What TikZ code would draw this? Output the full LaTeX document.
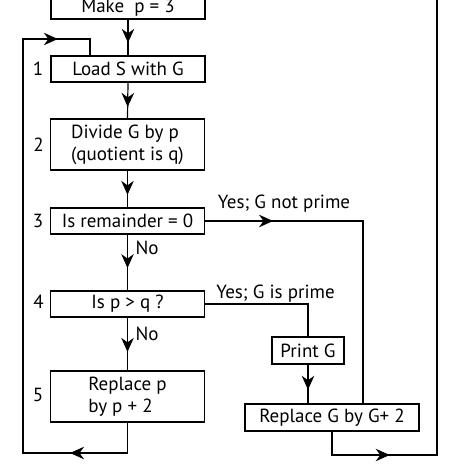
\documentclass[tikz,border=0pt]{standalone}
\usepackage{fontspec}
\setmainfont{PT Sans}
\usetikzlibrary{arrows.meta,decorations.markings}

\tikzset{every picture/.style={line width=1.2pt,line cap=rect}}
\tikzset{
  box/.style={draw,line width=1.4pt,minimum width=154pt,minimum height=26pt,inner sep=0pt,font=\fontsize{19}{22}\selectfont},
  lbl/.style={inner sep=0pt,font=\fontsize{19}{22}\selectfont},
  flow/.style={decoration={markings,mark=at position #1 with {\arrow{Stealth[length=14pt,width=12.5pt,inset=4.5pt]}}},postaction={decorate}},
  flow/.default=0.65
}

\begin{document}
\begin{tikzpicture}[x=1pt,y=1pt,yscale=-1]
	\useasboundingbox[fill=white] (0,0) rectangle (474,474);
	\clip (0,0) rectangle (474,474);

	% boxes
	\node[box,minimum height=27pt,text height=19pt,text depth=4.5pt] (make) at (128,5.5) {Make\ \ p = 3};
	\node[box] (load) at (128,69) {Load S with G};
	\node[box,minimum height=51pt,align=left] (divide) at (127.5,144.5) {Divide G by p\\(quotient is q)};
	\node[box] (rem) at (127.5,221) {Is remainder = 0};
	\node[box] (pq) at (127.5,304) {Is p > q ?};
	\node[box,minimum height=51pt,align=left] (replp) at (127.5,396.5) {Replace p\\by p + 2};
	\node[box,minimum width=72pt,minimum height=27pt] (printg) at (308,350.5) {Print G};
	\node[box,minimum width=174pt,minimum height=27pt] (replg) at (332,417.5) {Replace G by G+ 2};

	% step numbers
	\node[lbl] (n1) at (38,69) {1};
	\node[lbl] (n2) at (38.5,145) {2};
	\node[lbl] (n3) at (38,221) {3};
	\node[lbl] (n4) at (38.5,302) {4};
	\node[lbl] (n5) at (38,395) {5};

	% branch labels
	\node[lbl] (yes1) at (284,204) {Yes; G not prime};
	\node[lbl] (yes2) at (275.5,293.5) {Yes; G is prime};
	\node[lbl] (no1) at (147,248) {No};
	\node[lbl] (no2) at (147,334) {No};

	% corner points
	\coordinate (ylow) at (0,453);
	\coordinate (ylow2) at (0,455);
	\coordinate (lbr) at (replp.south |- ylow);
	\coordinate (lb) at (23,453);
	\coordinate (lt) at (23,39);
	\coordinate (ltr) at (90,39);
	\coordinate (remr) at (363,221);
	\coordinate (pqr) at (printg.north |- pq.east);
	\coordinate (rgb) at (replg.south |- ylow2);
	\coordinate (rr) at (437,455);
	\coordinate (rt) at (437,-10);

	% main column
	\draw[flow] (make.south) -- (load.north);
	\draw[flow=0.68] (load.south) -- (divide.north);
	\draw[flow=0.66] (divide.south) -- (rem.north);
	\draw[flow=0.6] (rem.south) -- (pq.north);
	\draw[flow] (pq.south) -- (replp.north);

	% loop back to step 1
	\draw (replp.south) -- (lbr);
	\draw[flow=0.55] (lbr) -- (lb);
	\draw (lb) -- (lt);
	\draw[flow=0.52] (lt) -- (ltr);
	\draw (ltr) -- (ltr |- load.north);

	% yes branches
	\draw[flow=0.43] (rem.east) -- (remr);
	\draw (remr) -- (remr |- replg.north);
	\draw (pq.east) -- (pqr);
	\draw (pqr) -- (printg.north);
	\draw[flow] (printg.south) -- (printg.south |- replg.north);

	% back to the top
	\draw (replg.south) -- (rgb);
	\draw[flow=0.55] (rgb) -- (rr);
	\draw (rr) -- (rt);
\end{tikzpicture}
\end{document}
